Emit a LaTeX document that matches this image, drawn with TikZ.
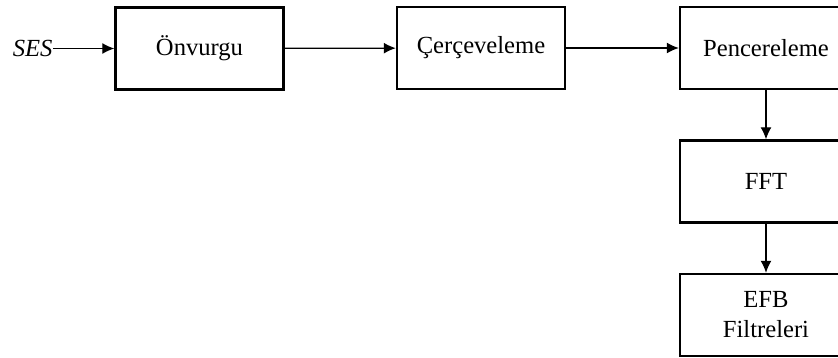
\documentclass[tikz,border=0pt]{standalone}
\usepackage{fontspec}
\setmainfont{Liberation Serif}
\usepackage{tikz}
\usetikzlibrary{arrows.meta,positioning,calc}
\tikzset{blok/.style={draw=black,line width=1.4pt,rectangle,minimum width=3.36cm,minimum height=1.64cm,align=center,font=\fontsize{14}{17}\selectfont}}

\begin{document}
\begin{tikzpicture}[-, >={Latex[length=2.4mm,width=2.2mm]}, auto, line width=0.7pt]
    \useasboundingbox (0,0) rectangle (16.76,-7.16);
    \clip (0,0) rectangle (16.76,-7.16);
    \node[blok] (ON) at (3.99,-0.97) {Önvurgu};
    \node[blok] (CE) at (9.62,-0.96) {Çerçeveleme};
    \node[blok,minimum width=3.44cm] (PE) at (15.32,-0.96) {Pencereleme};
    \node[blok,minimum width=3.44cm] (FFT) at (15.32,-3.63) {FFT};
    \node[blok,minimum width=3.44cm] (EFB) at (15.32,-6.30) {EFB\\Filtreleri};
    \node[anchor=east,inner sep=0pt,font=\fontsize{14}{17}\selectfont\itshape] (SES) at (1.06,-0.97) {SES};

    \path (SES) edge[->] (ON);
    \path (ON) edge[->] (CE);
    \path (CE) edge[->] (PE);
    \path (PE) edge[->] (FFT);
    \path (FFT) edge[->] (EFB);
\end{tikzpicture}
\end{document}
